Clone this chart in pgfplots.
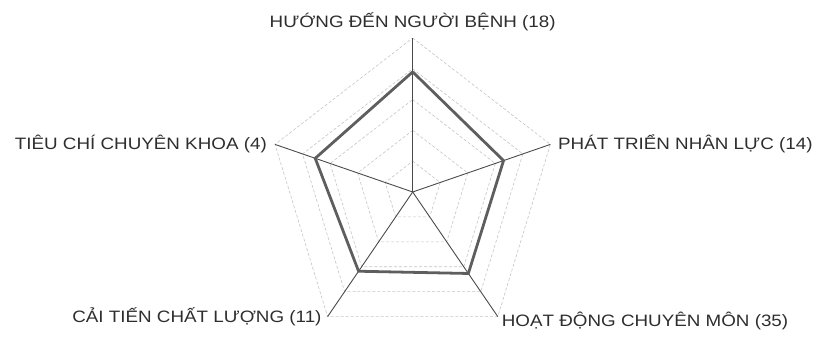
\documentclass[border=0pt]{standalone}
\usepackage{fontspec}
\setmainfont{Liberation Sans}
\newfontfamily\lab{Liberation Sans}[FakeStretch=1.14]
\usepackage{pgfplots}
\pgfplotsset{compat=1.18}
\definecolor{spoke}{HTML}{4A4A4A}
\definecolor{ring}{HTML}{C4C4C4}
\definecolor{dataline}{HTML}{5E5E5E}
\definecolor{txt}{HTML}{2E2E2E}
\begin{document}
\begin{tikzpicture}
\begin{axis}[
  name=radar,
  scale only axis, width=820bp, height=337bp,
  xmin=-14.256, xmax=14.07, ymin=-4.708, ymax=6.234,
  hide axis, clip=false,
  every axis plot/.append style={data cs=polar},
]
% grid rings
\foreach \r in {1,2,3,4,5}{
  \addplot[ring, densely dashed, line width=0.6pt] coordinates {(90,\r) (18,\r) (-54,\r) (-126,\r) (162,\r) (90,\r)};
}
% spokes
\addplot[spoke, line width=0.9pt] coordinates {(90,0) (90,5)};
\addplot[spoke, line width=0.9pt] coordinates {(18,0) (18,5)};
\addplot[spoke, line width=0.9pt] coordinates {(-54,0) (-54,5)};
\addplot[spoke, line width=0.9pt] coordinates {(-126,0) (-126,5)};
\addplot[spoke, line width=0.9pt] coordinates {(162,0) (162,5)};
% data
\addplot[dataline, line width=2.8pt, line join=miter] coordinates {(90,3.9) (18,3.3) (-54,3.27) (-126,3.18) (162,3.54) (90,3.9)};
% labels
\begin{scope}[every node/.style={font=\lab\fontsize{16.5bp}{19bp}\selectfont, text=txt, inner sep=0pt}]
\node[anchor=base] at (axis cs:0,5.357) {HƯỚNG ĐẾN NGƯỜI BỆNH (18)};
\node[anchor=base west] at (axis cs:5.019,1.364) {PHÁT TRIỂN NHÂN LỰC (14)};
\node[anchor=base west] at (axis cs:3.074,-4.351) {HOẠT ĐỘNG CHUYÊN MÔN (35)};
\node[anchor=base east] at (axis cs:-3.143,-4.221) {CẢI TIẾN CHẤT LƯỢNG (11)};
\node[anchor=base east] at (axis cs:-5.033,1.396) {TIÊU CHÍ CHUYÊN KHOA (4)};
\end{scope}
\end{axis}
\pgfresetboundingbox
\useasboundingbox (radar.south west) rectangle (radar.north east);
\end{tikzpicture}
\end{document}
